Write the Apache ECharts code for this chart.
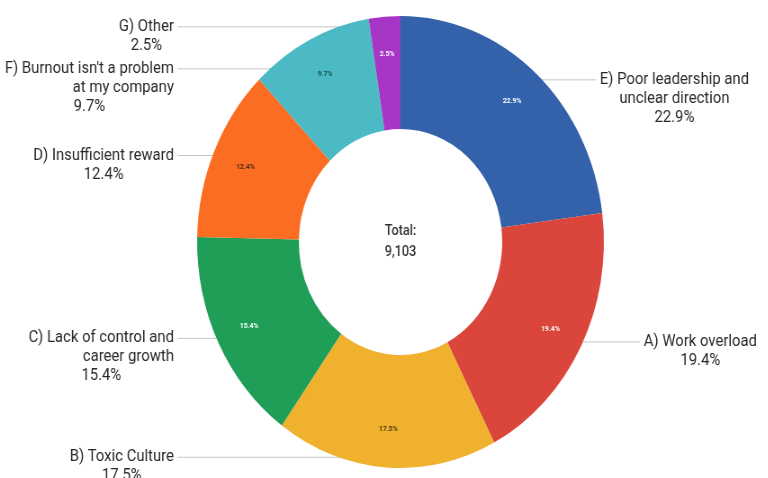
<!DOCTYPE html>
<html>
<head>
<meta charset="utf-8">
<script src="https://cdn.jsdelivr.net/npm/echarts@6/dist/echarts.min.js"></script>
<style>
html,body{margin:0;padding:0;background:#ffffff;overflow:hidden;width:768px;height:478px}
#wrap{width:768px;height:478px;overflow:hidden;position:relative}
#chart{width:853.33px;height:478px;transform:scaleX(0.9);transform-origin:0 0}
</style>
</head>
<body>
<div id="wrap"><div id="chart"></div></div>
<script>
// ---- data ----
const categories = [
  'E) Poor leadership and unclear direction',
  'A) Work overload',
  'B) Toxic Culture',
  'C) Lack of control and career growth',
  'D) Insufficient reward',
  "F) Burnout isn't a problem at my company",
  'G) Other'
];
const wrappedLabels = [
  ['E) Poor leadership and', 'unclear direction'],
  ['A) Work overload'],
  ['B) Toxic Culture'],
  ['C) Lack of control and', 'career growth'],
  ['D) Insufficient reward'],
  ["F) Burnout isn't a problem", 'at my company'],
  ['G) Other']
];
const shares = [22.9, 19.4, 17.5, 15.4, 12.4, 9.7, 2.5];
const totalResponses = 9103;
const totalTitle = 'Total:';

// ---- styles / layout constants ----
const sliceColors = ['#3462aa', '#da463c', '#efb12e', '#1f9e58', '#fb6d22', '#4cbac4', '#a736c6'];
const insideTextColors = ['#ffffff', '#ffffff', '#4a3a10', '#ffffff', '#4a2a10', '#1d4a50', '#ffffff'];
const FONT = 'Roboto, "Noto Sans", sans-serif';
const CX = 445, CY = 242, R_OUT = 226, R_IN = 113;
const R_ANCHOR = R_OUT * 0.955;   // where the leader lines start, inside the ring
const LH = 19;                     // label line height
const GAP_RIGHT = 75, GAP_LEFT = 50, TEXT_PAD = 4;

const sum = shares.reduce((a, b) => a + b, 0);
const mids = [];
let cum = 0;
shares.forEach(v => { mids.push((cum + v / 2) / sum * 2 * Math.PI); cum += v; });
const rightSide = mids.map(a => a < Math.PI);

// label placement plan derived from the slice geometry (first text line on the leader line)
const plan = shares.map((v, i) => ({
  right: rightSide[i],
  y: CY - R_ANCHOR * Math.cos(mids[i]),
  lines: wrappedLabels[i].length + 1
}));
[true, false].forEach(side => {
  const items = plan.filter(p => p.right === side).sort((a, b) => a.y - b.y);
  let bottom = 0;
  items.forEach(p => {
    if (p.y - LH / 2 < bottom + 4) p.y = bottom + 4 + LH / 2;
    bottom = p.y - LH / 2 + p.lines * LH;
  });
});
plan.forEach(p => {
  const dy = p.y - CY;
  const dx = Math.sqrt(Math.max(R_ANCHOR * R_ANCHOR - dy * dy, 0));
  p.ax = CX + (p.right ? dx : -dx);
});
const leftLineEnd = Math.min(...plan.filter(p => !p.right).map(p => p.ax)) - GAP_LEFT;
plan.forEach(p => { p.lx = p.right ? p.ax + GAP_RIGHT : leftLineEnd; });

function outerText(i) {
  const nameStyle = rightSide[i] ? 'c' : 'r';
  const parts = wrappedLabels[i].map(t => '{' + nameStyle + '|' + t + '}');
  parts.push('{c|' + shares[i].toFixed(1) + '%}');
  return parts.join('\n');
}

const txt = { fontSize: 16.5, lineHeight: LH, color: '#2a2a2a', fontFamily: FONT };

const mainData = shares.map((v, i) => ({
  value: v,
  name: categories[i],
  itemStyle: { color: sliceColors[i] }
}));

const innerData = shares.map((v, i) => ({
  value: v,
  name: categories[i],
  label: { color: insideTextColors[i] }
}));

const chart = echarts.init(document.getElementById('chart'), null, { renderer: 'canvas' });
chart.setOption({
  animation: false,
  backgroundColor: '#ffffff',
  series: [
    {
      type: 'pie',
      center: [CX, CY],
      radius: [R_IN, R_OUT],
      startAngle: 90,
      clockwise: true,
      avoidLabelOverlap: false,
      silent: true,
      itemStyle: { borderWidth: 0 },
      label: {
        show: true,
        position: 'outside',
        alignTo: 'none',
        formatter: p => outerText(p.dataIndex),
        rich: { r: Object.assign({ align: 'right' }, txt), c: Object.assign({ align: 'center' }, txt) }
      },
      labelLine: { show: true, length: 3, length2: 40, smooth: false, lineStyle: { color: '#c4c4c4', width: 1 } },
      labelLayout: params => {
        const p = plan[params.dataIndex];
        return {
          x: p.right ? p.lx + TEXT_PAD : p.lx - TEXT_PAD,
          y: p.y - LH / 2,
          align: p.right ? 'left' : 'right',
          verticalAlign: 'top',
          labelLinePoints: [[p.ax, p.y], [p.lx, p.y]]
        };
      },
      emphasis: { disabled: true },
      data: mainData
    },
    {
      type: 'pie',
      center: [CX, CY],
      radius: [144, R_OUT],
      startAngle: 90,
      clockwise: true,
      silent: true,
      itemStyle: { color: 'rgba(0,0,0,0)', borderWidth: 0 },
      label: { show: true, position: 'inside', formatter: p => shares[p.dataIndex].toFixed(1) + '%', fontSize: 7.5, fontWeight: 'bold', fontFamily: FONT },
      labelLine: { show: false },
      emphasis: { disabled: true },
      data: innerData
    },
    {
      type: 'pie',
      center: [CX, CY],
      radius: [0, 100],
      silent: true,
      itemStyle: { color: 'rgba(0,0,0,0)' },
      label: {
        show: true, position: 'center',
        formatter: () => totalTitle + '\n' + totalResponses.toLocaleString('en-US'),
        fontSize: 14, lineHeight: 21, color: '#333333', fontFamily: FONT, fontWeight: 500
      },
      labelLine: { show: false },
      emphasis: { disabled: true },
      data: [{ value: totalResponses, name: 'Total' }]
    }
  ]
});
</script>
</body>
</html>
